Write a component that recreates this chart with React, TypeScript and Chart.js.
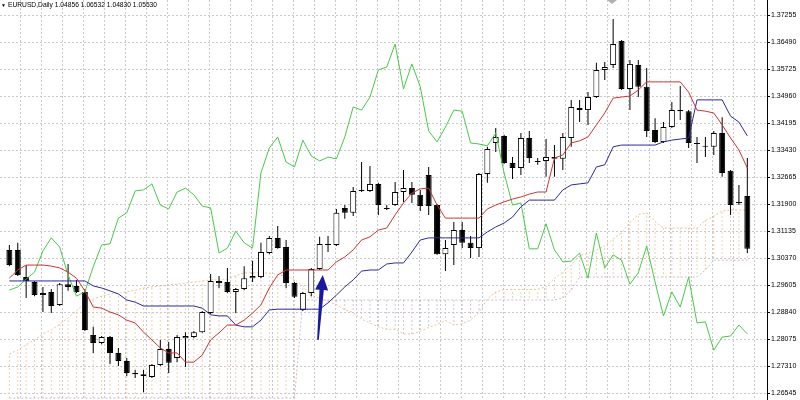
import React, { useEffect, useRef } from 'react';
import { Chart, registerables } from 'chart.js';

Chart.register(...registerables);

const TITLE = 'EURUSD,Daily 1.04856 1.06532 1.04830 1.05530';

const PRICE_TICKS = [
  1.26545, 1.2731, 1.28075, 1.2884, 1.29605, 1.3037, 1.31135, 1.319,
  1.32665, 1.3343, 1.34195, 1.3496, 1.35725, 1.3649, 1.37255,
];

const OPEN = [
  1.3060, 1.3060, 1.2983, 1.2969, 1.2932, 1.2941, 1.2904, 1.2963, 1.2958, 1.2941,
  1.2819, 1.2796, 1.2813, 1.2768, 1.2745, 1.2711, 1.2708, 1.2700, 1.2734, 1.2779,
  1.2754, 1.2810, 1.2813, 1.2827, 1.2881, 1.2966, 1.2969, 1.2941, 1.2949, 1.2980,
  1.2983, 1.3051, 1.3094, 1.3068, 1.2966, 1.2890, 1.2938, 1.3006, 1.3077, 1.3074,
  1.3179, 1.3165, 1.3230, 1.3227, 1.3247, 1.3179, 1.3187, 1.3224, 1.3235, 1.3216,
  1.3272, 1.3187, 1.3048, 1.3074, 1.3116, 1.3080, 1.3065, 1.3275, 1.3363, 1.3383,
  1.3306, 1.3292, 1.3377, 1.3312, 1.3312, 1.3323, 1.3318, 1.3377, 1.3462, 1.3456,
  1.3493, 1.3570, 1.3584, 1.3652, 1.3516, 1.3584, 1.3522, 1.3400, 1.3366, 1.3408,
  1.3456, 1.3453, 1.3363, 1.3352, 1.3352, 1.3391, 1.3284, 1.3196, 1.3213,
];

const HIGH = [
  1.3074, 1.3080, 1.3017, 1.2972, 1.2955, 1.2949, 1.2966, 1.3020, 1.2975, 1.2949,
  1.2842, 1.2816, 1.2816, 1.2782, 1.2754, 1.2720, 1.2720, 1.2737, 1.2805, 1.2799,
  1.2819, 1.2827, 1.2830, 1.2887, 1.2992, 1.2986, 1.3009, 1.2952, 1.3014, 1.3029,
  1.3080, 1.3099, 1.3128, 1.3088, 1.2969, 1.2941, 1.3009, 1.3097, 1.3099, 1.3176,
  1.3187, 1.3238, 1.3309, 1.3298, 1.3250, 1.3187, 1.3252, 1.3286, 1.3252, 1.3230,
  1.3295, 1.3190, 1.3088, 1.3139, 1.3139, 1.3099, 1.3278, 1.3352, 1.3405, 1.3386,
  1.3323, 1.3391, 1.3397, 1.3320, 1.3374, 1.3357, 1.3391, 1.3485, 1.3485, 1.3507,
  1.3590, 1.3592, 1.3714, 1.3655, 1.3598, 1.3598, 1.3575, 1.3433, 1.3422, 1.3479,
  1.3524, 1.3456, 1.3380, 1.3380, 1.3397, 1.3436, 1.3286, 1.3244, 1.3320,
];

const LOW = [
  1.3014, 1.2986, 1.2924, 1.2929, 1.2884, 1.2881, 1.2901, 1.2944, 1.2938, 1.2830,
  1.2768, 1.2793, 1.2737, 1.2731, 1.2703, 1.2697, 1.2657, 1.2697, 1.2731, 1.2711,
  1.2742, 1.2728, 1.2810, 1.2825, 1.2878, 1.2952, 1.2938, 1.2881, 1.2946, 1.2969,
  1.2980, 1.3048, 1.3063, 1.2952, 1.2924, 1.2887, 1.2929, 1.3003, 1.3054, 1.3071,
  1.3148, 1.3156, 1.3224, 1.3224, 1.3159, 1.3173, 1.3184, 1.3196, 1.3193, 1.3170,
  1.3159, 1.3046, 1.3000, 1.3017, 1.3065, 1.3037, 1.3040, 1.3250, 1.3337, 1.3303,
  1.3261, 1.3272, 1.3306, 1.3301, 1.3267, 1.3267, 1.3286, 1.3352, 1.3422, 1.3414,
  1.3490, 1.3541, 1.3575, 1.3513, 1.3456, 1.3493, 1.3380, 1.3363, 1.3363, 1.3405,
  1.3428, 1.3349, 1.3306, 1.3323, 1.3329, 1.3267, 1.3159, 1.3187, 1.3051,
];

const CLOSE = [
  1.3017, 1.2989, 1.2972, 1.2932, 1.2938, 1.2901, 1.2963, 1.2955, 1.2941, 1.2833,
  1.2796, 1.2813, 1.2768, 1.2745, 1.2711, 1.2708, 1.2703, 1.2734, 1.2779, 1.2740,
  1.2813, 1.2816, 1.2827, 1.2884, 1.2972, 1.2972, 1.2941, 1.2949, 1.2980, 1.2986,
  1.3054, 1.3094, 1.3065, 1.2966, 1.2927, 1.2938, 1.3006, 1.3077, 1.3074, 1.3165,
  1.3165, 1.3227, 1.3227, 1.3247, 1.3187, 1.3176, 1.3224, 1.3235, 1.3216, 1.3184,
  1.3184, 1.3048, 1.3065, 1.3116, 1.3080, 1.3065, 1.3275, 1.3346, 1.3380, 1.3306,
  1.3292, 1.3377, 1.3320, 1.3309, 1.3323, 1.3318, 1.3380, 1.3465, 1.3456, 1.3493,
  1.3570, 1.3578, 1.3643, 1.3516, 1.3587, 1.3522, 1.3397, 1.3366, 1.3408, 1.3456,
  1.3453, 1.3363, 1.3360, 1.3355, 1.3391, 1.3278, 1.3187, 1.3193, 1.3063,
];

const TENKAN = [
  1.2980, 1.3003, 1.3017, 1.3017, 1.3017, 1.3014, 1.3009, 1.2997, 1.2980, 1.2944,
  1.2898, 1.2895, 1.2884, 1.2876, 1.2861, 1.2853, 1.2827, 1.2805, 1.2782, 1.2768,
  1.2768, 1.2742, 1.2742, 1.2762, 1.2805, 1.2825, 1.2847, 1.2847, 1.2861, 1.2881,
  1.2904, 1.2952, 1.2989, 1.3003, 1.3003, 1.3003, 1.3003, 1.3003, 1.3003, 1.3026,
  1.3040, 1.3060, 1.3088, 1.3097, 1.3116, 1.3122, 1.3159, 1.3193, 1.3221, 1.3233,
  1.3235, 1.3187, 1.3150, 1.3150, 1.3150, 1.3150, 1.3150, 1.3176, 1.3187, 1.3196,
  1.3204, 1.3210, 1.3218, 1.3224, 1.3224, 1.3320, 1.3329, 1.3363, 1.3369, 1.3380,
  1.3414, 1.3448, 1.3490, 1.3493, 1.3496, 1.3513, 1.3536, 1.3536, 1.3536, 1.3536,
  1.3536, 1.3507, 1.3456, 1.3453, 1.3448, 1.3414, 1.3377, 1.3343, 1.3292,
];

const KIJUN = [
  1.2972, 1.2972, 1.2972, 1.2972, 1.2972, 1.2972, 1.2972, 1.2972, 1.2972, 1.2972,
  1.2958, 1.2952, 1.2944, 1.2935, 1.2918, 1.2912, 1.2901, 1.2901, 1.2901, 1.2901,
  1.2901, 1.2901, 1.2901, 1.2895, 1.2876, 1.2873, 1.2873, 1.2847, 1.2842, 1.2842,
  1.2861, 1.2890, 1.2892, 1.2892, 1.2892, 1.2892, 1.2892, 1.2892, 1.2910, 1.2932,
  1.2955, 1.2975, 1.3000, 1.3003, 1.3003, 1.3020, 1.3023, 1.3023, 1.3054, 1.3088,
  1.3094, 1.3094, 1.3094, 1.3094, 1.3094, 1.3094, 1.3094, 1.3111, 1.3125, 1.3136,
  1.3153, 1.3182, 1.3201, 1.3201, 1.3201, 1.3201, 1.3230, 1.3244, 1.3247, 1.3250,
  1.3295, 1.3301, 1.3352, 1.3357, 1.3357, 1.3357, 1.3357, 1.3357, 1.3366, 1.3371,
  1.3374, 1.3377, 1.3485, 1.3485, 1.3485, 1.3485, 1.3439, 1.3422, 1.3383,
];

const CHIKOU = [
  1.2946, 1.2955, 1.2977, 1.2997, 1.3057, 1.3094, 1.3068, 1.2989, 1.2929, 1.2941,
  1.3012, 1.3074, 1.3077, 1.3150, 1.3165, 1.3227, 1.3230, 1.3247, 1.3187, 1.3176,
  1.3224, 1.3235, 1.3216, 1.3184, 1.3179, 1.3051, 1.3065, 1.3113, 1.3080, 1.3065,
  1.3278, 1.3349, 1.3380, 1.3309, 1.3295, 1.3371, 1.3326, 1.3312, 1.3323, 1.3318,
  1.3380, 1.3465, 1.3456, 1.3493, 1.3570, 1.3578, 1.3643, 1.3516, 1.3587, 1.3522,
  1.3397, 1.3366, 1.3408, 1.3456, 1.3453, 1.3363, 1.3360, 1.3355, 1.3391, 1.3278,
  1.3187, 1.3193, 1.3063, 1.3063, 1.3134, 1.3060, 1.3026, 1.3028, 1.3051, 1.2980,
  1.3108, 1.3009, 1.3046, 1.3031, 1.2963, 1.2995, 1.3071, 1.2969, 1.2873, 1.2941,
  1.2898, 1.2983, 1.2853, 1.2856, 1.2776, 1.2813, 1.2816, 1.2847, 1.2822,
];

const SPAN_A = [
  1.2765, 1.2776, 1.2791, 1.2805, 1.2822, 1.2833, 1.2850, 1.2867, 1.2887, 1.2910,
  1.2921, 1.2929, 1.2935, 1.2938, 1.2941, 1.2946, 1.2952, 1.2955, 1.2958, 1.2961,
  1.2963, 1.2966, 1.2969, 1.2972, 1.2975, 1.2975, 1.2976, 1.2987, 1.2995, 1.2995,
  1.2995, 1.2994, 1.2991, 1.2985, 1.2976, 1.2958, 1.2928, 1.2924, 1.2914, 1.2905,
  1.2890, 1.2883, 1.2864, 1.2853, 1.2842, 1.2835, 1.2835, 1.2822, 1.2822, 1.2829,
  1.2840, 1.2849, 1.2860, 1.2847, 1.2851, 1.2861, 1.2883, 1.2921, 1.2941, 1.2948,
  1.2948, 1.2948, 1.2948, 1.2948, 1.2956, 1.2979, 1.2997, 1.3017, 1.3044, 1.3050,
  1.3060, 1.3071, 1.3091, 1.3108, 1.3138, 1.3160, 1.3165, 1.3140, 1.3122, 1.3122,
  1.3122, 1.3122, 1.3122, 1.3143, 1.3156, 1.3170, 1.3173, 1.3173, 1.3173,
];

const SPAN_B = [
  1.2640, 1.2640, 1.2640, 1.2640, 1.2640, 1.2640, 1.2640, 1.2640, 1.2640, 1.2640,
  1.2640, 1.2640, 1.2640, 1.2640, 1.2640, 1.2640, 1.2640, 1.2640, 1.2640, 1.2640,
  1.2640, 1.2640, 1.2640, 1.2640, 1.2640, 1.2640, 1.2640, 1.2640, 1.2640, 1.2640,
  1.2640, 1.2640, 1.2640, 1.2640, 1.2640, 1.2918, 1.2918, 1.2918, 1.2918, 1.2918,
  1.2918, 1.2918, 1.2918, 1.2918, 1.2918, 1.2918, 1.2918, 1.2918, 1.2918, 1.2918,
  1.2918, 1.2918, 1.2918, 1.2918, 1.2918, 1.2918, 1.2918, 1.2918, 1.2918, 1.2918,
  1.2918, 1.2918, 1.2918, 1.2918, 1.2918, 1.2918, 1.2924, 1.2946, 1.2983, 1.2983,
  1.2983, 1.2983, 1.2983, 1.2983, 1.2983, 1.2983, 1.2983, 1.2983, 1.2983, 1.2983,
  1.2983, 1.2983, 1.2983, 1.3003, 1.3031, 1.3031, 1.3031, 1.3031, 1.3031,
];

// annotation arrow (bar index, price)
const ARROW_TAIL = { bar: 36.8, price: 1.2805 };
const ARROW_TIP = { bar: 37.37, price: 1.2989 };

// view window (bar index range, price range) and grid spacing
const VIEW_X = { min: 0.189, max: 89.04 };
const VIEW_Y = { min: 1.26347, max: 1.3768 };
const GRID_X = { start: 2.62, step: 2.5, count: 35 };

const FONT = 'Liberation Sans';
const GRID_COLOR = '#c9c9c9';

function dottedPattern(color: string): CanvasPattern | string {
  const c = document.createElement('canvas');
  c.width = 1;
  c.height = 4;
  const g = c.getContext('2d');
  if (!g) return color;
  g.fillStyle = color;
  g.fillRect(0, 0, 1, 2);
  const ctx = document.createElement('canvas').getContext('2d');
  const p = ctx ? ctx.createPattern(c, 'repeat') : null;
  return p || color;
}

const overlayPlugin = {
  id: 'overlay',
  afterDraw(chart: any) {
    const { ctx, chartArea, scales } = chart;
    const xs = scales.x;
    const ys = scales.y;
    ctx.save();
    ctx.strokeStyle = '#000';
    ctx.lineWidth = 1;
    ctx.beginPath();
    ctx.moveTo(Math.round(chartArea.right) + 0.5, 0);
    ctx.lineTo(Math.round(chartArea.right) + 0.5, chartArea.bottom);
    ctx.stroke();

    const x1 = xs.getPixelForValue(ARROW_TAIL.bar);
    const y1 = ys.getPixelForValue(ARROW_TAIL.price);
    const x2 = xs.getPixelForValue(ARROW_TIP.bar);
    const y2 = ys.getPixelForValue(ARROW_TIP.price);
    const dx = x2 - x1;
    const dy = y2 - y1;
    const len = Math.hypot(dx, dy);
    const ux = dx / len;
    const uy = dy / len;
    const nx = -uy;
    const ny = ux;
    const headLen = 15;
    const headHalf = 6.5;
    const neckHalf = 2.2;
    const tailHalf = 0.8;
    const bx = x2 - ux * headLen;
    const by = y2 - uy * headLen;
    ctx.fillStyle = '#1818a4';
    ctx.beginPath();
    ctx.moveTo(x1 + nx * tailHalf, y1 + ny * tailHalf);
    ctx.lineTo(bx + nx * neckHalf, by + ny * neckHalf);
    ctx.lineTo(bx + nx * headHalf, by + ny * headHalf);
    ctx.lineTo(x2, y2);
    ctx.lineTo(bx - nx * headHalf, by - ny * headHalf);
    ctx.lineTo(bx - nx * neckHalf, by - ny * neckHalf);
    ctx.lineTo(x1 - nx * tailHalf, y1 - ny * tailHalf);
    ctx.closePath();
    ctx.fill();
    ctx.restore();
  },
};

export default function App() {
  const canvasRef = useRef<HTMLCanvasElement | null>(null);

  useEffect(() => {
    const canvas = canvasRef.current;
    if (!canvas) return;
    const idx = OPEN.map((_, i) => i);

    const bodies = idx.map((i) => ({ x: i, y: [OPEN[i], CLOSE[i]] }));
    const bodyColors = idx.map((i) => (CLOSE[i] >= OPEN[i] ? '#ffffff' : '#000000'));
    const wicks = idx.map((i) => ({ x: i, y: [LOW[i], HIGH[i]] }));
    const cloud = idx.map((i) => ({ x: i, y: [SPAN_A[i], SPAN_B[i]] }));
    const sandy = dottedPattern('rgb(240,208,176)');
    const thistle = dottedPattern('rgb(208,196,214)');
    const cloudColors = idx.map((i) => (SPAN_A[i] >= SPAN_B[i] ? sandy : thistle));
    const line = (arr: number[]) => idx.map((i) => ({ x: i, y: arr[i] }));

    const gridTicks = Array.from({ length: GRID_X.count }, (_, k) => GRID_X.start + GRID_X.step * k);

    const chart = new Chart(canvas, {
      type: 'bar',
      data: {
        datasets: [
          {
            type: 'line',
            label: 'Tenkan-sen',
            data: line(TENKAN),
            borderColor: '#c93434',
            borderWidth: 1,
            pointRadius: 0,
            tension: 0,
            order: 0,
          } as any,
          {
            type: 'line',
            label: 'Kijun-sen',
            data: line(KIJUN),
            borderColor: '#2a2aa0',
            borderWidth: 1,
            pointRadius: 0,
            tension: 0,
            order: 0,
          } as any,
          {
            type: 'line',
            label: 'Chikou Span',
            data: line(CHIKOU),
            borderColor: '#48c848',
            borderWidth: 1,
            pointRadius: 0,
            tension: 0,
            order: 0,
          } as any,
          {
            type: 'bar',
            label: 'Body',
            data: bodies,
            backgroundColor: bodyColors,
            borderColor: '#000000',
            borderWidth: 1,
            borderSkipped: false,
            grouped: false,
            maxBarThickness: 6,
            inflateAmount: 0,
            order: 1,
          } as any,
          {
            type: 'bar',
            label: 'Wick',
            data: wicks,
            backgroundColor: '#000000',
            borderWidth: 0,
            grouped: false,
            maxBarThickness: 1,
            inflateAmount: 0,
            order: 2,
          } as any,
          {
            type: 'line',
            label: 'Senkou Span A',
            data: line(SPAN_A),
            borderColor: 'rgba(228,170,120,0.7)',
            borderWidth: 1,
            borderDash: [2, 2],
            pointRadius: 0,
            tension: 0,
            order: 3,
          } as any,
          {
            type: 'line',
            label: 'Senkou Span B',
            data: line(SPAN_B),
            borderColor: 'rgba(180,165,195,0.75)',
            borderWidth: 1,
            borderDash: [2, 2],
            pointRadius: 0,
            tension: 0,
            order: 3,
          } as any,
          {
            type: 'bar',
            label: 'Kumo',
            data: cloud,
            backgroundColor: cloudColors,
            borderWidth: 0,
            grouped: false,
            maxBarThickness: 1,
            inflateAmount: 0,
            order: 4,
          } as any,
        ],
      },
      options: {
        responsive: false,
        maintainAspectRatio: false,
        animation: false,
        events: [],
        layout: { padding: 0 },
        plugins: {
          legend: { display: false },
          tooltip: { enabled: false },
          title: { display: false },
        },
        scales: {
          x: {
            type: 'linear',
            min: VIEW_X.min,
            max: VIEW_X.max,
            afterBuildTicks: (s: any) => {
              s.ticks = gridTicks.map((v) => ({ value: v }));
            },
            afterFit: (s: any) => {
              s.height = 0;
              s.paddingLeft = 0;
              s.paddingRight = 0;
            },
            ticks: { display: false },
            grid: { color: GRID_COLOR, drawTicks: false, lineWidth: 1 },
            border: { display: false, dash: [2, 2] },
          },
          y: {
            type: 'linear',
            position: 'right',
            min: VIEW_Y.min,
            max: VIEW_Y.max,
            afterBuildTicks: (s: any) => {
              s.ticks = PRICE_TICKS.map((v) => ({ value: v }));
            },
            afterFit: (s: any) => {
              s.width = 33;
              s.paddingTop = 0;
              s.paddingBottom = 0;
            },
            ticks: {
              autoSkip: false,
              padding: 1,
              color: '#000',
              font: { family: FONT, size: 7 },
              callback: (v: any) => Number(v).toFixed(5),
            },
            grid: {
              color: GRID_COLOR,
              tickColor: '#000',
              tickLength: 3,
              tickBorderDash: [1, 0],
              lineWidth: 1,
            },
            border: { display: false, dash: [2, 2] },
          },
        },
      } as any,
      plugins: [overlayPlugin],
    });
    return () => chart.destroy();
  }, []);

  return (
    <div style={{ position: 'fixed', left: 0, top: 0, width: 800, height: 400, background: '#fff' }}>
      <canvas ref={canvasRef} width={800} height={400} style={{ display: 'block' }} />
      <div
        style={{
          position: 'absolute',
          left: 1,
          top: 1,
          fontFamily: FONT,
          fontSize: 6.7,
          lineHeight: '8px',
          color: '#000',
          whiteSpace: 'nowrap',
        }}
      >
        <span style={{ fontSize: 5, marginRight: 2 }}>▼</span>
        {TITLE}
      </div>
      <div
        style={{
          position: 'absolute',
          left: 607,
          top: 0,
          width: 0,
          height: 0,
          borderLeft: '5px solid transparent',
          borderRight: '5px solid transparent',
          borderTop: '4px solid #b0b0b0',
        }}
      />
    </div>
  );
}
